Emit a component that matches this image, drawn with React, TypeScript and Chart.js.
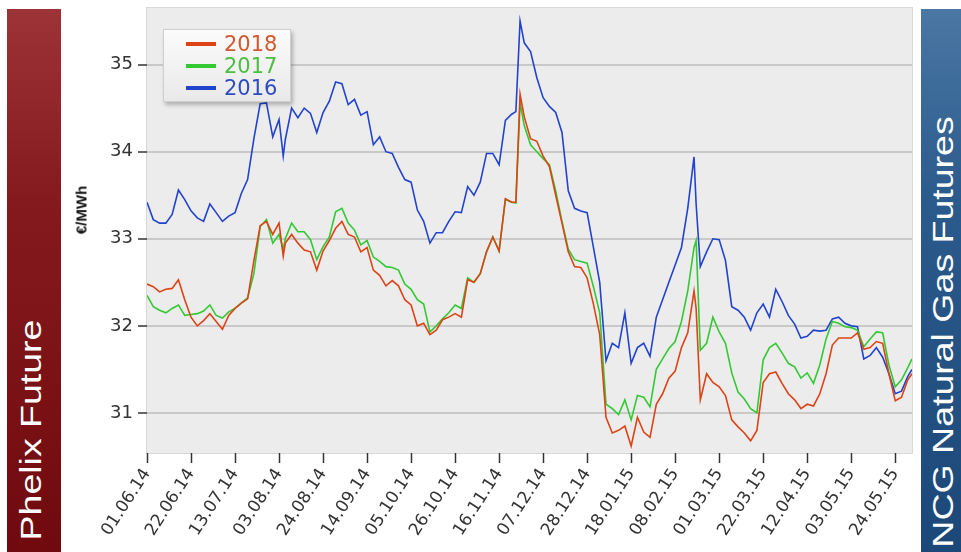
import React, { useEffect, useRef } from "react";
import { Chart, registerables } from "chart.js";

Chart.register(...registerables);

// Day offsets from 01.06.14
const days = [0,3,6,9,12,15,18,21,24,27,30,33,36,39,42,45,48,51,54,57,60,63,65,66,69,72,75,78,81,84,87,90,93,96,99,102,105,108,111,114,117,120,123,126,129,132,135,138,141,144,147,150,153,156,159,162,165,168,171,174,176,178,180,183,186,189,192,195,198,201,204,207,210,213,216,219,222,225,228,231,234,237,240,243,246,249,252,255,258,261,262,264,267,270,273,276,279,282,285,288,291,294,297,300,303,306,309,312,315,318,321,324,327,330,333,336,339,342,345,348,351,354,357,360,363,365];

const series2016 = [33.42,33.22,33.18,33.18,33.28,33.56,33.45,33.32,33.24,33.20,33.40,33.30,33.20,33.26,33.30,33.52,33.68,34.15,34.55,34.56,34.17,34.37,33.95,34.14,34.50,34.39,34.50,34.44,34.22,34.45,34.58,34.80,34.78,34.54,34.60,34.42,34.46,34.08,34.17,34.00,33.98,33.82,33.68,33.65,33.33,33.20,32.95,33.07,33.07,33.20,33.31,33.30,33.60,33.50,33.65,33.98,33.98,33.85,34.36,34.43,34.46,35.50,35.25,35.15,34.85,34.62,34.52,34.45,34.22,33.55,33.35,33.32,33.30,32.90,32.50,31.60,31.80,31.75,32.15,31.57,31.75,31.80,31.65,32.10,32.30,32.50,32.70,32.90,33.35,33.94,33.40,32.68,32.85,33.00,32.99,32.75,32.22,32.18,32.10,31.95,32.15,32.25,32.10,32.42,32.28,32.12,32.02,31.86,31.88,31.95,31.94,31.95,32.08,32.10,32.03,32.00,31.99,31.62,31.66,31.75,31.64,31.45,31.22,31.25,31.42,31.50];

const series2017 = [32.35,32.22,32.18,32.15,32.20,32.24,32.12,32.13,32.14,32.17,32.24,32.12,32.09,32.16,32.20,32.26,32.32,32.60,33.14,33.22,32.95,33.05,32.88,33.00,33.18,33.08,33.08,32.99,32.76,32.91,33.02,33.31,33.35,33.18,33.10,32.93,32.98,32.79,32.74,32.68,32.67,32.64,32.48,32.42,32.30,32.25,31.93,32.00,32.08,32.15,32.24,32.20,32.55,32.50,32.60,32.85,33.02,32.86,33.45,33.42,33.41,34.56,34.30,34.08,34.00,33.92,33.85,33.55,33.20,32.88,32.76,32.74,32.72,32.45,32.15,31.10,31.05,30.98,31.15,30.92,31.20,31.18,31.07,31.50,31.62,31.74,31.82,32.05,32.40,32.90,32.98,31.72,31.80,32.10,31.93,31.80,31.46,31.24,31.16,31.05,31.00,31.61,31.75,31.80,31.69,31.57,31.53,31.40,31.46,31.34,31.55,31.85,32.05,32.03,31.99,31.98,31.95,31.76,31.85,31.93,31.92,31.55,31.30,31.38,31.52,31.62];

const series2018 = [32.48,32.45,32.39,32.42,32.43,32.53,32.30,32.10,32.00,32.06,32.14,32.05,31.96,32.12,32.20,32.26,32.31,32.75,33.15,33.20,33.05,33.18,32.80,32.95,33.05,32.95,32.87,32.85,32.64,32.86,32.98,33.12,33.20,33.05,33.02,32.85,32.90,32.64,32.58,32.46,32.52,32.46,32.30,32.24,32.00,32.03,31.90,31.95,32.07,32.10,32.14,32.10,32.53,32.50,32.60,32.85,33.02,32.86,33.46,33.42,33.42,34.66,34.40,34.15,34.12,33.95,33.83,33.50,33.18,32.85,32.68,32.67,32.55,32.25,31.90,30.95,30.77,30.80,30.85,30.62,30.95,30.78,30.72,31.10,31.22,31.40,31.48,31.75,31.92,32.40,32.20,31.15,31.45,31.35,31.30,31.20,30.92,30.84,30.77,30.68,30.80,31.35,31.45,31.47,31.34,31.22,31.15,31.05,31.10,31.08,31.22,31.45,31.78,31.86,31.86,31.86,31.92,31.73,31.75,31.82,31.80,31.45,31.14,31.18,31.38,31.45];

const tickDays = [0,21,42,63,84,105,126,147,168,189,210,231,252,273,294,315,336,357];
const xTickLabels = ["01.06.14","22.06.14","13.07.14","03.08.14","24.08.14","14.09.14","05.10.14","26.10.14","16.11.14","07.12.14","28.12.14","18.01.15","08.02.15","01.03.15","22.03.15","12.04.15","03.05.15","24.05.15"];
const yTicks = [31, 32, 33, 34, 35];

const seriesNames = ["2018", "2017", "2016"];
const lineColors = ["#dd4415", "#33c933", "#2244cc"];
const textColors = ["#d2582f", "#4cbf40", "#2d4cc4"];

const FONT = "'DejaVu Sans', 'Liberation Sans', Arial, sans-serif";

const plotBg = {
  id: "plotBg",
  beforeDraw(chart: any) {
    const { ctx, chartArea } = chart;
    if (!chartArea) return;
    ctx.save();
    ctx.fillStyle = "#ececec";
    ctx.fillRect(chartArea.left, chartArea.top, chartArea.right - chartArea.left, chartArea.bottom - chartArea.top);
    ctx.strokeStyle = "#d8d8d8";
    ctx.lineWidth = 1;
    ctx.strokeRect(chartArea.left - 0.5, chartArea.top - 0.5, chartArea.right - chartArea.left + 1, chartArea.bottom - chartArea.top + 1);
    ctx.restore();
  },
};

export default function App() {
  const canvasRef = useRef<HTMLCanvasElement | null>(null);

  useEffect(() => {
    const canvas = canvasRef.current;
    if (!canvas) return;
    const all = [series2018, series2017, series2016];
    const chart = new Chart(canvas, {
      type: "line",
      data: {
        datasets: all.map((s, k) => ({
          label: seriesNames[k],
          data: days.map((d, i) => ({ x: d, y: s[i] })),
          borderColor: lineColors[k],
          backgroundColor: lineColors[k],
          borderWidth: 1.6,
          pointRadius: 0,
          tension: 0,
          fill: false,
        })),
      },
      options: {
        responsive: false,
        animation: false,
        devicePixelRatio: 1,
        layout: { padding: { top: 8, right: 9, left: 0, bottom: 0 } },
        plugins: { legend: { display: false }, tooltip: { enabled: false } },
        scales: {
          x: {
            type: "linear",
            min: 0,
            max: 365,
            afterBuildTicks: (scale: any) => {
              scale.ticks = tickDays.map((v) => ({ value: v }));
            },
            afterFit: (scale: any) => {
              scale.height = 99;
              scale.paddingLeft = 0;
              scale.paddingRight = 0;
            },
            ticks: {
              autoSkip: false,
              minRotation: 57,
              maxRotation: 57,
              padding: 2,
              color: "#333",
              font: { family: FONT, size: 17 },
              callback: (v: any) => {
                const idx = tickDays.indexOf(Number(v));
                return idx >= 0 ? xTickLabels[idx] : "";
              },
            },
            grid: {
              drawOnChartArea: false,
              drawTicks: true,
              tickLength: 10,
              tickColor: "#333",
              tickWidth: 1.5,
            },
            border: { display: false },
          },
          y: {
            min: 30.54,
            max: 35.65,
            afterBuildTicks: (scale: any) => {
              scale.ticks = yTicks.map((v) => ({ value: v }));
            },
            afterFit: (scale: any) => {
              scale.width = 147;
              scale.paddingTop = 0;
              scale.paddingBottom = 0;
            },
            ticks: {
              padding: 5,
              color: "#333",
              font: { family: FONT, size: 18 },
              callback: (v: any) => String(v),
            },
            grid: {
              color: "#c9c9c9",
              lineWidth: 2,
              tickLength: 9,
              tickColor: "#333",
              tickWidth: 1.5,
            },
            border: { display: false },
          },
        },
      },
      plugins: [plotBg],
    } as any);
    return () => chart.destroy();
  }, []);

  const sideText: React.CSSProperties = {
    position: "absolute",
    color: "#ffffff",
    fontFamily: "'Liberation Sans', Arial, sans-serif",
    fontSize: 30,
    lineHeight: "30px",
    whiteSpace: "nowrap",
    transform: "translate(-50%, -50%) rotate(-90deg) scaleX(1.25)",
  };

  return (
    <div style={{ position: "fixed", left: 0, top: 0, width: 961, height: 552, background: "#ffffff", overflow: "hidden" }}>
      <div
        style={{
          position: "absolute",
          left: 7,
          top: 9,
          width: 54,
          height: 543,
          background: "linear-gradient(to bottom, #9c3336 0%, #851a1e 35%, #700a0e 100%)",
        }}
      />
      <div style={{ ...sideText, left: 31, top: 430 }}>Phelix Future</div>
      <div
        style={{
          position: "absolute",
          left: 921,
          top: 9,
          width: 40,
          height: 543,
          background: "linear-gradient(to bottom, #4a77a3 0%, #2b5a8c 35%, #1b4878 100%)",
        }}
      />
      <div style={{ ...sideText, left: 943, top: 332 }}>NCG Natural Gas Futures</div>
      <canvas ref={canvasRef} width={921} height={552} style={{ position: "absolute", left: 0, top: 0, width: 921, height: 552 }} />
      <div
        style={{
          position: "absolute",
          left: 81,
          top: 210,
          transform: "translate(-50%, -50%) rotate(-90deg)",
          fontFamily: "'Liberation Sans', Arial, sans-serif",
          fontWeight: "bold",
          fontSize: 15,
          color: "#111",
          whiteSpace: "nowrap",
          lineHeight: "15px",
        }}
      >
        €/MWh
      </div>
      <div
        style={{
          position: "absolute",
          left: 163,
          top: 29,
          width: 128,
          height: 73,
          boxSizing: "border-box",
          border: "1px solid #cfcfcf",
          background: "linear-gradient(to bottom, #fbfbfb, #e9e9e9)",
          boxShadow: "2px 3px 4px rgba(0,0,0,0.25)",
        }}
      >
        {seriesNames.map((n, k) => (
          <div key={n} style={{ position: "absolute", left: 0, top: 3 + k * 22, height: 22, width: 126 }}>
            <div style={{ position: "absolute", left: 22, top: 9, width: 30, height: 4, background: lineColors[k] }} />
            <div
              style={{
                position: "absolute",
                left: 60,
                top: 0,
                lineHeight: "22px",
                fontFamily: FONT,
                fontSize: 21,
                color: textColors[k],
              }}
            >
              {n}
            </div>
          </div>
        ))}
      </div>
    </div>
  );
}
